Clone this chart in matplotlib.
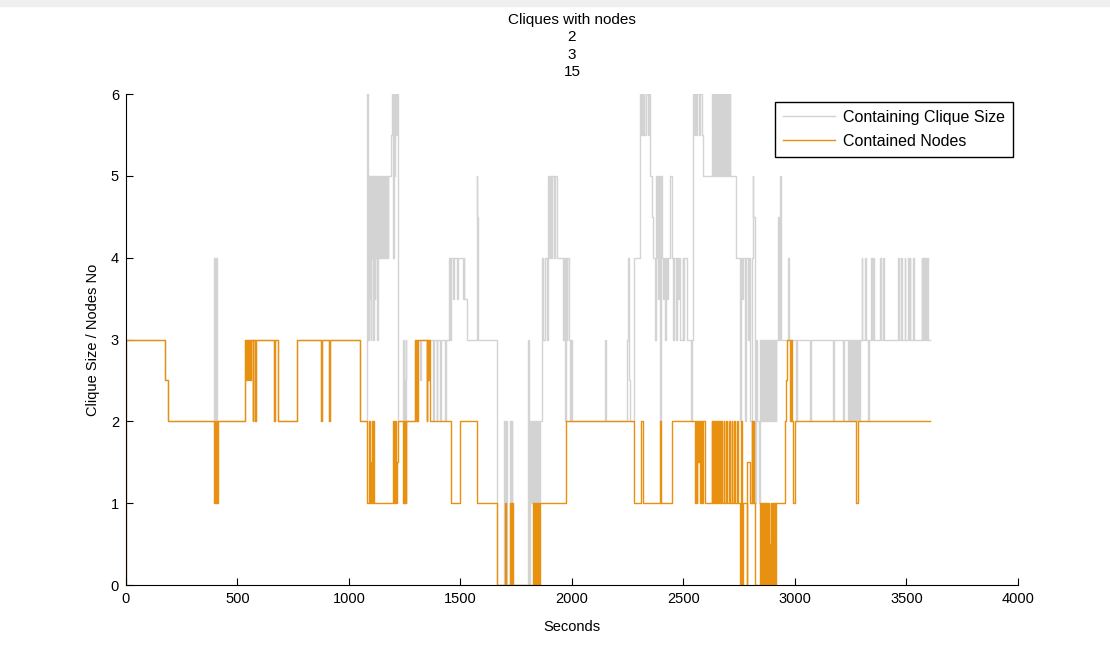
import matplotlib
matplotlib.use("Agg")
import matplotlib.pyplot as plt
from matplotlib.patches import Rectangle

plt.rcParams['font.family'] = ['Liberation Sans Narrow', 'Liberation Sans', 'DejaVu Sans']

# Contained Nodes (orange), step changes: time [s] -> value
nodes_t = [0, 1, 175, 187,
           395, 399, 402, 406, 409, 413,
           535, 539, 543, 547, 551, 555, 559, 563, 568, 571, 578, 581,
           664, 668, 680, 765, 874, 877, 912, 915, 1049, 1079,
           1092, 1095, 1098, 1101, 1104, 1107, 1110, 1113,
           1197, 1201, 1205, 1209, 1214, 1218,
           1242, 1245, 1248, 1251, 1254, 1257,
           1296, 1300, 1303, 1306, 1309, 1313,
           1348, 1352, 1356, 1360, 1364, 1368,
           1457, 1498, 1575, 1662,
           1699, 1703, 1722, 1726, 1730, 1735,
           1826, 1829, 1832, 1835, 1838, 1841, 1844, 1847, 1850, 1853, 1856, 1860,
           1973, 2278, 2312, 2317, 2394, 2399, 2447,
           2551, 2555, 2559, 2563, 2567, 2571, 2575, 2580, 2585, 2590, 2596,
           2626, 2629, 2632, 2635, 2638, 2641, 2644, 2647, 2650, 2653, 2656, 2659, 2662, 2665, 2668, 2671,
           2680, 2684, 2692, 2696, 2704, 2708, 2716, 2720, 2728, 2732, 2740, 2744,
           2753, 2757, 2762, 2766, 2783, 2787, 2800, 2806, 2809, 2812, 2815, 2820,
           2843, 2846, 2849, 2852, 2855, 2858, 2861, 2864, 2867, 2870, 2873, 2876, 2879,
           2882, 2885, 2888, 2891, 2894, 2897, 2900, 2903, 2906, 2909, 2912, 2915, 2918,
           2955, 2960, 2965, 2977, 2982, 2987, 2992, 3000, 3276, 3281, 3605]
nodes_v = [0, 3, 2.5, 2,
           1, 2, 1, 2, 1, 2,
           3, 2.5, 3, 2.5, 3, 2.5, 3, 3, 2, 3, 2, 3,
           2, 3, 2, 3, 2, 3, 2, 3, 2, 1,
           2, 1, 1.5, 1, 2, 1, 2, 1,
           2, 1, 2, 1, 1.5, 2,
           1, 2, 1, 2, 1, 2,
           3, 2, 3, 2, 3, 3,
           2, 3, 2.5, 3, 2, 2,
           1, 2, 1, 0,
           1, 0, 1, 0, 1, 0,
           1, 0, 1, 0, 1, 0, 1, 0, 1, 0, 1, 1,
           2, 1, 2, 1, 2, 1, 2,
           1, 2, 1, 2, 1.5, 2, 1, 2, 1, 2, 1,
           2, 1, 2, 1, 2, 1, 2, 1, 2, 1, 2, 1, 2, 1, 2, 1,
           2, 1, 2, 1, 2, 1, 2, 1, 2, 1, 2, 1,
           0, 2, 0, 1, 0, 1.5, 1, 2, 1, 2, 1, 0,
           1, 0, 1, 0, 1, 0, 1, 0, 1, 0, 1, 0, 1,
           0, 0.5, 0, 1, 0, 1, 0, 1, 0, 1, 0, 1, 1,
           2, 2.5, 3, 2, 3, 2, 1, 2, 1, 2, 2]

# Containing Clique Size (grey)
size_t = [0, 175, 187,
          395, 399, 402, 406, 410, 413,
          535, 568, 571, 578, 581, 664, 668, 680, 765, 874, 877, 912, 915, 1049, 1079,
          1083, 1086, 1089, 1092, 1095, 1098, 1101, 1104, 1107, 1110, 1113, 1116, 1119, 1122, 1125, 1128, 1131, 1134, 1137,
          1141, 1145, 1149, 1153, 1157, 1161, 1165, 1169, 1173, 1177, 1188, 1192, 1196, 1200, 1204, 1208, 1212, 1216, 1219,
          1242, 1246, 1250, 1254, 1257,
          1296, 1313, 1318, 1322, 1348, 1352, 1356, 1360,
          1368, 1378, 1381, 1393, 1396, 1408, 1411, 1430, 1433,
          1448, 1452, 1456, 1467, 1471, 1485, 1489, 1505, 1510, 1514, 1518, 1528, 1573, 1576, 1580, 1587, 1662,
          1696, 1700, 1703, 1707, 1722, 1726, 1729, 1732, 1804, 1807, 1811,
          1814, 1817, 1820, 1823, 1826, 1829, 1832, 1835, 1838, 1841, 1844, 1847, 1850, 1853, 1856, 1860,
          1864, 1870, 1880, 1886, 1894, 1898, 1902, 1906, 1910, 1919, 1925, 1932, 1938, 1961, 1964, 1968,
          1972, 1976, 1980, 1985, 1990, 1995, 2000, 2005,
          2148, 2152, 2245, 2249, 2252, 2256, 2260, 2278,
          2305, 2309, 2313, 2317, 2321, 2325, 2330, 2340, 2344, 2350, 2358, 2365, 2372, 2376, 2380,
          2384, 2388, 2392, 2396, 2400, 2404, 2408, 2412, 2416, 2420, 2425, 2430, 2440, 2447,
          2454, 2458, 2468, 2472, 2476, 2480, 2486, 2496, 2500, 2504, 2514, 2536, 2540, 2544, 2548,
          2552, 2556, 2560, 2570, 2575, 2585, 2589,
          2630, 2633, 2636, 2639, 2642, 2645, 2648, 2651, 2654, 2657, 2660, 2663, 2666, 2669,
          2672, 2675, 2678, 2681, 2684, 2687, 2690, 2693, 2696, 2699, 2702, 2705, 2708, 2711, 2716,
          2738, 2753, 2757, 2762, 2766, 2775, 2779, 2790, 2794, 2800, 2806, 2810, 2814, 2820,
          2826, 2832, 2838, 2843, 2847,
          2850, 2853, 2856, 2859, 2862, 2865, 2868, 2871, 2874, 2877, 2880, 2883, 2886, 2889,
          2892, 2895, 2898, 2901, 2904, 2907, 2910, 2913, 2916,
          2925, 2929, 2933, 2937, 2940, 2970, 2973, 3007, 3010, 3067, 3070, 3172, 3175, 3216, 3219,
          3239, 3242, 3245, 3248, 3251, 3254, 3257, 3260, 3263, 3266, 3269, 3272, 3275, 3278,
          3281, 3284, 3287, 3291,
          3299, 3302, 3314, 3317, 3329, 3332, 3343, 3346, 3351, 3354, 3381, 3384, 3396, 3399,
          3463, 3466, 3478, 3481, 3493, 3496, 3508, 3511, 3515, 3518, 3530, 3533,
          3568, 3571, 3574, 3577, 3580, 3583, 3586, 3589, 3592, 3595, 3598, 3605]
size_v = [3, 2.5, 2,
          4, 2, 4, 3, 2, 2,
          3, 2, 3, 2, 3, 2, 3, 2, 3, 2, 3, 2, 3, 2, 4,
          6, 3, 5, 3.5, 5, 3, 5, 4, 5, 3, 5, 3.5, 5, 4, 5, 3, 5, 4, 5,
          4, 5, 4, 5, 4, 5, 4, 5, 4, 5, 5.5, 6, 4, 6, 5, 6, 5.5, 6, 2,
          3, 2, 2.5, 3, 2,
          3, 3, 2.5, 3, 2, 3, 2.5, 3,
          3, 2, 3, 2, 3, 2, 3, 2, 3,
          4, 3, 4, 3.5, 4, 3.5, 4, 4, 3.5, 4, 3.5, 3, 5, 4.5, 3, 3, 0,
          2, 0, 2, 0, 2, 0, 2, 0, 3, 0, 1,
          2, 1, 2, 1, 2, 1, 2, 1, 2, 1, 2, 1, 2, 1, 2, 2,
          4, 3, 4, 3, 5, 4, 5, 4, 5, 4, 5, 4, 4, 3, 4, 2,
          4, 3, 4, 3, 2, 3, 2, 2,
          3, 2, 2.5, 3, 4, 2.5, 2, 4,
          6, 5.5, 6, 5.5, 6, 5.5, 6, 5.5, 6, 5, 4.5, 4, 3, 5, 4,
          5, 3.5, 5, 2, 5, 4, 3.5, 4, 3, 4, 3.5, 4, 5, 4,
          3, 4, 3, 4, 3.5, 4, 3, 4, 3, 4, 3, 2, 3, 6, 5.5,
          6, 5.5, 6, 5.5, 6, 5.5, 5,
          6, 5, 6, 5, 6, 5, 6, 5, 6, 5, 6, 5, 6, 5,
          6, 5, 6, 5, 6, 5, 6, 5, 6, 5, 6, 5, 6, 5, 5,
          4, 2, 4, 3.5, 4, 2, 4, 3, 4, 2, 4, 5, 4.5, 1,
          3, 2, 1, 3, 2,
          3, 2, 3, 2, 3, 2, 3, 2, 3, 2, 3, 2, 3, 2,
          3, 2, 3, 2, 3, 2, 3, 2, 3,
          4.5, 3, 5, 3, 3, 4, 3, 2, 3, 2, 3, 2, 3, 2, 3,
          2, 3, 2, 3, 2, 3, 2, 3, 2, 3, 2, 3, 2, 3,
          2, 3, 2, 3,
          4, 3, 4, 3, 2, 3, 4, 3, 4, 3, 4, 3, 4, 3,
          4, 3, 4, 3, 4, 3, 4, 3, 4, 3, 4, 3,
          4, 3, 4, 3, 4, 3, 4, 3, 4, 3, 3, 3]

assert len(nodes_t) == len(nodes_v)
assert len(size_t) == len(size_v)

fig = plt.figure(figsize=(11.1, 6.47), dpi=100)
fig.patches.append(Rectangle((0, 0.991), 1, 0.009, transform=fig.transFigure,
                             color='#efefef', zorder=-1))
ax = fig.add_axes([0.1135, 0.0958, 0.8035, 0.7589])

ax.step(size_t, size_v, where='post', color='#d3d3d3', lw=1.0,
        label='Containing Clique Size')
ax.step(nodes_t, nodes_v, where='post', color='#e8900f', lw=1.0,
        label='Contained Nodes')

ax.set_xlim(0, 4000)
ax.set_ylim(0, 6)
ax.set_xticks(range(0, 4001, 500))
ax.set_yticks(range(0, 7))
ax.spines['top'].set_visible(False)
ax.spines['right'].set_visible(False)
ax.tick_params(direction='in', length=5, labelsize=10.5, pad=5)

ax.set_xlabel('Seconds', fontsize=10.5, labelpad=10)
ax.set_ylabel('Clique Size / Nodes No', fontsize=10.5, labelpad=8)
ax.set_title('Cliques with nodes\n2\n3\n15', fontsize=11, pad=13, linespacing=1.3)

leg = ax.legend(loc='upper right', bbox_to_anchor=(0.995, 0.984), fontsize=11.5,
                fancybox=False, framealpha=1, edgecolor='black',
                handlelength=3.3, handletextpad=0.5, borderaxespad=0,
                labelspacing=0.55, borderpad=0.5)
leg.get_frame().set_linewidth(1.0)

fig.savefig('out.png', dpi=100)
